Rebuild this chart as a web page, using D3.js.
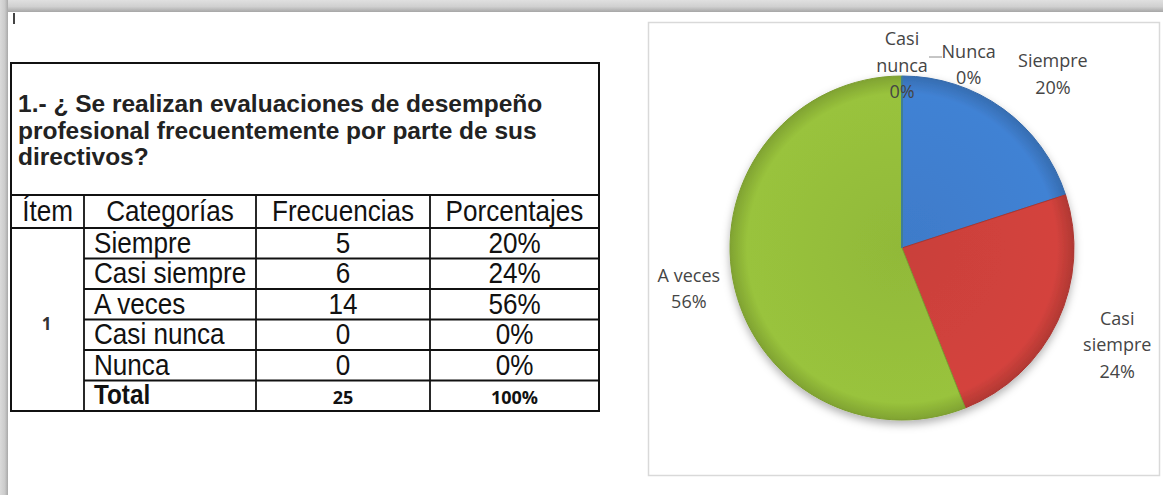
<!DOCTYPE html>
<html>
<head>
<meta charset="utf-8">
<script src="https://cdn.jsdelivr.net/npm/d3@7"></script>
<style>
  body { margin: 0; background: #fff; }
  svg { display: block; }
</style>
</head>
<body>
<div id="chart"></div>
<script>
/* Encuesta: tabla de frecuencias + gráfico circular */

const pregunta = ["1.- ¿ Se realizan evaluaciones de desempeño",
                  "profesional frecuentemente por parte de sus",
                  "directivos?"];
const encabezados = ["Ítem", "Categorías", "Frecuencias", "Porcentajes"];
const categorias = ["Siempre", "Casi siempre", "A veces", "Casi nunca", "Nunca"];
const frecuencias = [5, 6, 14, 0, 0];
const porcentajes = [20, 24, 56, 0, 0];
const item = "1";
const total = 25;
const totalPct = 100;

const W = 1163, H = 495;
const svg = d3.select("#chart").append("svg").attr("width", W).attr("height", H);

const defs = svg.append("defs");

// Window frame (top and left gray bands)
const gTop = defs.append("linearGradient").attr("id", "frameTop").attr("x1", 0).attr("y1", 0).attr("x2", 0).attr("y2", 1);
gTop.append("stop").attr("offset", "0%").attr("stop-color", "#e0e0e0");
gTop.append("stop").attr("offset", "55%").attr("stop-color", "#d0d0d0");
gTop.append("stop").attr("offset", "100%").attr("stop-color", "#a6a6a6");
const gLeft = defs.append("linearGradient").attr("id", "frameLeft").attr("x1", 0).attr("y1", 0).attr("x2", 1).attr("y2", 0);
gLeft.append("stop").attr("offset", "0%").attr("stop-color", "#dadada");
gLeft.append("stop").attr("offset", "60%").attr("stop-color", "#cbcbcb");
gLeft.append("stop").attr("offset", "100%").attr("stop-color", "#a8a8a8");

svg.append("rect").attr("x", 0).attr("y", 0).attr("width", W).attr("height", 12).attr("fill", "url(#frameTop)");
svg.append("rect").attr("x", 0).attr("y", 0).attr("width", 8).attr("height", H).attr("fill", "url(#frameLeft)");
svg.append("rect").attr("x", 13).attr("y", 13).attr("width", 2).attr("height", 11).attr("fill", "#444");

// ---------- Table ----------
const sans = "'Liberation Sans', Arial, sans-serif";
const squeeze = 0.9;   // the table font is a condensed Arial
const colEdges = [11, 84, 256, 430, 599];
const tableTop = 63, headTop = 195, headBottom = 228, tableBottom = 411;
const rowKeys = categorias.concat(["Total"]);
const y = d3.scaleBand().domain(rowKeys).range([headBottom, tableBottom]);

const tbl = svg.append("g");

function narrowText(g, x, yy, txt, anchor, size, weight) {
  return g.append("text")
    .attr("transform", `translate(${x},${yy}) scale(${squeeze},1)`)
    .attr("text-anchor", anchor)
    .attr("font-family", sans)
    .attr("font-size", size)
    .attr("font-weight", weight || "normal")
    .attr("fill", "#111")
    .text(txt);
}

tbl.append("g").selectAll("text")
  .data(pregunta)
  .join("text")
  .attr("x", 18)
  .attr("y", (d, i) => 112 + i * 26.5)
  .attr("font-family", sans)
  .attr("font-weight", "bold")
  .attr("font-size", 24.5)
  .attr("fill", "#222")
  .text(d => d);

encabezados.forEach((h, i) => {
  narrowText(tbl, (colEdges[i] + colEdges[i + 1]) / 2, headBottom - 7, h, "middle", 29);
});

categorias.forEach((c, i) => {
  const by = y(c) + y.bandwidth() - 6;
  narrowText(tbl, 94, by, c, "start", 29);
  narrowText(tbl, (colEdges[2] + colEdges[3]) / 2, by, frecuencias[i], "middle", 29);
  narrowText(tbl, (colEdges[3] + colEdges[4]) / 2, by, porcentajes[i] + "%", "middle", 29);
});

const totalY = y("Total") + y.bandwidth() - 7;
narrowText(tbl, 94, totalY, "Total", "start", 27, "bold");
tbl.append("text").attr("x", (colEdges[2] + colEdges[3]) / 2).attr("y", totalY).attr("text-anchor", "middle")
  .attr("font-family", "'Open Sans', sans-serif").attr("font-weight", "bold").attr("font-size", 18).attr("fill", "#111").text(total);
tbl.append("text").attr("x", (colEdges[3] + colEdges[4]) / 2).attr("y", totalY).attr("text-anchor", "middle")
  .attr("font-family", "'Open Sans', sans-serif").attr("font-weight", "bold").attr("font-size", 18).attr("fill", "#111").text(totalPct + "%");
tbl.append("text").attr("x", (colEdges[0] + colEdges[1]) / 2 - 1).attr("y", (headBottom + tableBottom) / 2 + 10)
  .attr("text-anchor", "middle").attr("font-family", "'Open Sans', sans-serif").attr("font-weight", "bold")
  .attr("font-size", 17).attr("fill", "#333").text(item);

// grid lines
const lines = tbl.append("g").attr("stroke", "#111").attr("fill", "none");
lines.append("rect").attr("x", colEdges[0]).attr("y", tableTop).attr("width", colEdges[4] - colEdges[0])
  .attr("height", tableBottom - tableTop).attr("stroke-width", 2);
lines.append("line").attr("x1", colEdges[0]).attr("x2", colEdges[4]).attr("y1", headTop).attr("y2", headTop).attr("stroke-width", 2);
lines.append("line").attr("x1", colEdges[0]).attr("x2", colEdges[4]).attr("y1", headBottom).attr("y2", headBottom).attr("stroke-width", 1.8);
lines.selectAll(".rowline")
  .data(rowKeys.slice(1))
  .join("line")
  .attr("x1", colEdges[1]).attr("x2", colEdges[4])
  .attr("y1", d => y(d)).attr("y2", d => y(d))
  .attr("stroke-width", 1.8);
lines.selectAll(".colline")
  .data(colEdges.slice(1, 4))
  .join("line")
  .attr("x1", d => d).attr("x2", d => d)
  .attr("y1", headTop).attr("y2", tableBottom)
  .attr("stroke-width", 1.8);

// ---------- Pie chart ----------
svg.append("rect").attr("x", 648.5).attr("y", 22.5).attr("width", 511).attr("height", 453)
  .attr("fill", "#fff").attr("stroke", "#d9d9d9").attr("stroke-width", 1.5);

const cx = 902, cy = 248, r = 172;
const colores = ["#4182d4", "#d4433d", "#99c33c", "#7f6aa0", "#3fa8c4"];
const color = d3.scaleOrdinal().domain(categorias).range(colores);

colores.forEach((c, i) => {
  const g = defs.append("radialGradient").attr("id", "grad" + i)
    .attr("gradientUnits", "userSpaceOnUse").attr("cx", 0).attr("cy", 0).attr("r", r);
  g.append("stop").attr("offset", "0%").attr("stop-color", d3.color(c).darker(0.15));
  g.append("stop").attr("offset", "90%").attr("stop-color", c);
  g.append("stop").attr("offset", "100%").attr("stop-color", d3.color(c).darker(0.5));
});

const shadow = defs.append("filter").attr("id", "shadow").attr("x", "-20%").attr("y", "-20%").attr("width", "140%").attr("height", "140%");
shadow.append("feDropShadow").attr("dx", 0).attr("dy", 4).attr("stdDeviation", 4).attr("flood-color", "#000").attr("flood-opacity", 0.3);

const pie = d3.pie().sort(null).value(d => d.v);
const arcs = pie(categorias.map((c, i) => ({ c, v: frecuencias[i], p: porcentajes[i] })));
const arc = d3.arc().innerRadius(0).outerRadius(r);

const pg = svg.append("g").attr("transform", `translate(${cx},${cy})`);
pg.append("g").attr("filter", "url(#shadow)")
  .selectAll("path")
  .data(arcs)
  .join("path")
  .attr("d", arc)
  .attr("fill", (d, i) => `url(#grad${i})`)
  .attr("stroke", d => d3.color(color(d.data.c)).darker(0.6))
  .attr("stroke-width", 1);

// labels outside the pie (Excel best-fit style)
const deg = Math.PI / 180;
const labelRadius = [230, 236, 217, 183, 195];
const labelShift = [5 * deg, -1 * deg, 0, 0, 20 * deg];
const labelFont = "'Open Sans', 'Liberation Sans', sans-serif";
const labelLines = d => (d.data.c === "Casi siempre" ? ["Casi", "siempre"] :
                         d.data.c === "Casi nunca" ? ["Casi", "nunca"] : [d.data.c]).concat([d.data.p + "%"]);

const lg = pg.append("g").selectAll("g")
  .data(arcs)
  .join("g")
  .attr("transform", (d, i) => {
    const a = (d.startAngle + d.endAngle) / 2 + labelShift[i];
    const n = labelLines(d).length;
    return `translate(${Math.sin(a) * labelRadius[i]}, ${-Math.cos(a) * labelRadius[i] - (n - 1) * 13})`;
  });

lg.selectAll("text")
  .data(d => labelLines(d))
  .join("text")
  .attr("y", (d, i) => i * 26.5 + 6)
  .attr("text-anchor", "middle")
  .attr("font-family", labelFont)
  .attr("font-size", 18)
  .attr("fill", "#454545")
  .text(d => d);

// leader line between the two zero labels
pg.append("line").attr("x1", 27).attr("x2", 40).attr("y1", -191).attr("y2", -191)
  .attr("stroke", "#8c8c8c").attr("stroke-width", 1);
</script>
</body>
</html>
